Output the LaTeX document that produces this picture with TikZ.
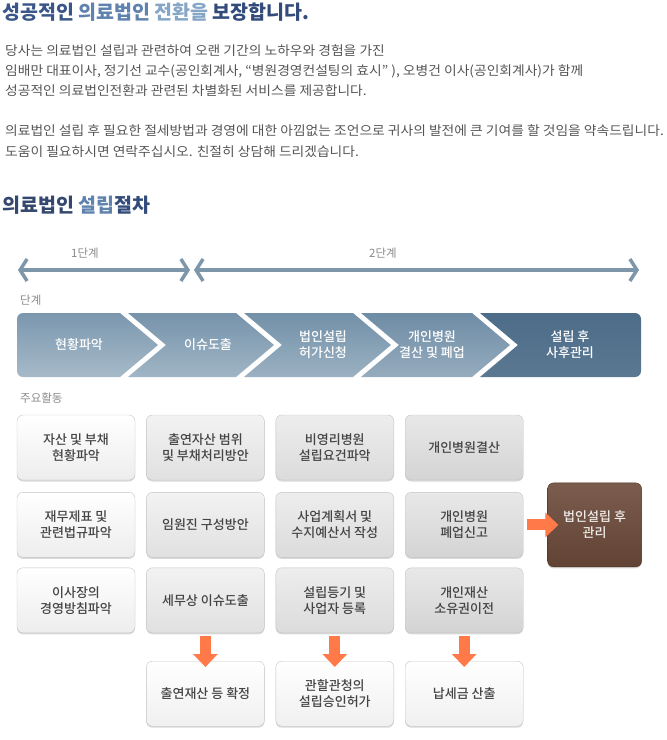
\documentclass[tikz,border=0pt]{standalone}
\usepackage{fontspec}
\setmainfont{Noto Sans CJK KR}
\newfontfamily\boxfont{Noto Sans CJK KR Medium}
\usepackage{graphicx}
\usepackage{tikz}
\usetikzlibrary{arrows.meta, positioning, shadows}
\definecolor{TitleA}{HTML}{3A5688}
\definecolor{TitleB}{HTML}{5F82AE}
\definecolor{TitleC}{HTML}{86A6C8}
\definecolor{TitleD}{HTML}{324B7B}
\definecolor{HeadNavy}{HTML}{34486F}
\definecolor{BodyGray}{HTML}{555555}
\definecolor{LabelGray}{HTML}{8A8A8A}
\definecolor{StepBlue}{HTML}{7D96A9}
\definecolor{SegTopA}{HTML}{7B97AE}
\definecolor{SegBotA}{HTML}{A6BAC9}
\definecolor{SegTopB}{HTML}{7693AB}
\definecolor{SegBotB}{HTML}{A0B5C5}
\definecolor{SegTopC}{HTML}{7290A8}
\definecolor{SegBotC}{HTML}{9BB1C2}
\definecolor{SegTopD}{HTML}{6E8CA5}
\definecolor{SegBotD}{HTML}{96ACBE}
\definecolor{SegTopE}{HTML}{4D6C89}
\definecolor{SegBotE}{HTML}{5A7891}
\definecolor{BoxLine}{HTML}{C4C4C4}
\definecolor{BoxText}{HTML}{444444}
\definecolor{Brown}{HTML}{6C4A3A}
\definecolor{BrownLine}{HTML}{4B3226}
\definecolor{ArrOrange}{HTML}{FF7A48}

\begin{document}
\begin{tikzpicture}[
  x=1pt, y=-1pt,
  node distance=12pt and 11pt,
  body/.style={anchor=west, inner sep=0pt, text=BodyGray, font=\fontsize{13}{15}\selectfont},
  small/.style={inner sep=0pt, text=LabelGray, font=\fontsize{11.5}{14}\selectfont},
  steparr/.style={line width=3.5pt, StepBlue, {Straight Barb[length=7pt,width=22pt]}-{Straight Barb[length=7pt,width=22pt]}},
  seglabel/.style={text=white, align=center, font=\boxfont\fontsize{13}{16}\selectfont},
  task/.style={draw=BoxLine, rounded corners=6pt, minimum width=118pt, minimum height=65pt,
    align=center, text=BoxText, font=\boxfont\fontsize{13}{16}\selectfont,
    drop shadow={shadow xshift=0pt, shadow yshift=-1.5pt, opacity=0.3}},
  colA/.style={task, top color=white, bottom color=black!7},
  colB/.style={task, top color=black!5, bottom color=black!12},
  colC/.style={task, top color=black!7, bottom color=black!14},
  colD/.style={task, top color=black!9, bottom color=black!17},
  result/.style={task, top color=white, bottom color=black!6},
  fatarr/.style={line width=11pt, ArrOrange, -{Triangle[width=24pt,length=13pt]}}
]
  \useasboundingbox (0,0) rectangle (667,740);

  % Intro
  \node[anchor=west, inner sep=0pt, font=\fontsize{19.5}{22}\bfseries] (title) at (2,12)
    {\textcolor{TitleA}{성공적인} \textcolor{TitleB}{의료법인} \textcolor{TitleC}{전환을} \textcolor{TitleD}{보장합니다.}};
  \node[body] (t1) at (5,51) {\scalebox{1.06}[1]{당사는 의료법인 설립과 관련하여 오랜 기간의 노하우와 경험을 가진}};
  \node[body] (t2) at (5,71) {\scalebox{1.06}[1]{임배만 대표이사, 정기선 교수(공인회계사, “병원경영컨설팅의 효시” ), 오병건 이사(공인회계사)가 함께}};
  \node[body] (t3) at (5,91) {\scalebox{1.06}[1]{성공적인 의료법인전환과 관련된 차별화된 서비스를 제공합니다.}};
  \node[body] (t4) at (5,131) {\scalebox{1.06}[1]{의료법인 설립 후 필요한 절세방법과 경영에 대한 아낌없는 조언으로 귀사의 발전에 큰 기여를 할 것임을 약속드립니다.}};
  \node[body] (t5) at (5,152) {\scalebox{1.06}[1]{도움이 필요하시면 연락주십시오. 친절히 상담해 드리겠습니다.}};

  % Procedure
  \node[anchor=west, inner sep=0pt, font=\fontsize{19.5}{22}\bfseries] (head) at (2,205)
    {\textcolor{HeadNavy}{의료법인} \textcolor{TitleB}{설립}\textcolor{TitleD}{절차}};
  \node[small] (phase1) at (85,253) {1단계};
  \node[small] (phase2) at (383,253) {2단계};
  \coordinate (p1a) at (18,270);
  \coordinate (p1b) at (190,270);
  \coordinate (p2a) at (194,270);
  \coordinate (p2b) at (639,270);
  \draw[steparr] (p1a) -- (p1b);
  \draw[steparr] (p2a) -- (p2b);

  \node[small, anchor=west] (steps) at (20,300) {단계};
  \begin{scope}
    \clip[rounded corners=6pt] (17,313) rectangle (641,377);
    \shade[top color=SegTopA, bottom color=SegBotA] (10,313) -- (120,313) -- (158,345) -- (120,377) -- (10,377) -- cycle;
    \shade[top color=SegTopB, bottom color=SegBotB] (128,313) -- (236,313) -- (274,345) -- (236,377) -- (128,377) -- (166,345) -- cycle;
    \shade[top color=SegTopC, bottom color=SegBotC] (244,313) -- (353,313) -- (391,345) -- (353,377) -- (244,377) -- (282,345) -- cycle;
    \shade[top color=SegTopD, bottom color=SegBotD] (361,313) -- (472,313) -- (510,345) -- (472,377) -- (361,377) -- (399,345) -- cycle;
    \shade[top color=SegTopE, bottom color=SegBotE] (480,313) -- (650,313) -- (650,377) -- (480,377) -- (518,345) -- cycle;
  \end{scope}
  \node[seglabel] (s1) at (79,345) {현황파악};
  \node[seglabel] (s2) at (208,345) {이슈도출};
  \node[seglabel] (s3) at (323,345) {법인설립\\허가신청};
  \node[seglabel] (s4) at (432,345) {개인병원\\결산 및 폐업};
  \node[seglabel] (s5) at (570,345) {설립 후\\사후관리};

  % Activities
  \node[small, anchor=west] (acts) at (20,398) {주요활동};
  \node[colA] (r1c1) at (76,447.5) {자산 및 부채\\현황파악};
  \node[colB, right=of r1c1] (r1c2) {출연자산 범위\\및 부채처리방안};
  \node[colC, right=of r1c2] (r1c3) {비영리병원\\설립요건파악};
  \node[colD, right=of r1c3] (r1c4) {개인병원결산};

  \node[colA, below=of r1c1] (r2c1) {재무제표 및\\관련법규파악};
  \node[colB, right=of r2c1] (r2c2) {임원진 구성방안};
  \node[colC, right=of r2c2] (r2c3) {사업계획서 및\\수지예산서 작성};
  \node[colD, right=of r2c3] (r2c4) {개인병원\\폐업신고};

  \node[colA, below=10pt of r2c1] (r3c1) {이사장의\\경영방침파악};
  \node[colB, right=of r3c1] (r3c2) {세무상 이슈도출};
  \node[colC, right=of r3c2] (r3c3) {설립등기 및\\사업자 등록};
  \node[colD, right=of r3c3] (r3c4) {개인재산\\소유권이전};

  \node[result, below=28pt of r3c2] (r4c2) {출연재산 등 확정};
  \node[result, below=28pt of r3c3] (r4c3) {관할관청의\\설립승인허가};
  \node[result, below=28pt of r3c4] (r4c4) {납세금 산출};

  \node[task, right=24pt of r2c4, minimum width=94pt, minimum height=84pt, draw=BrownLine,
    top color=Brown!90!white, bottom color=Brown!90!black, text=white!90!Brown] (manage) {법인설립 후\\관리};

  \draw[fatarr] ([yshift=-3pt]r3c2.south) -- ([yshift=-6pt]r4c2.north);
  \draw[fatarr] ([yshift=-3pt]r3c3.south) -- ([yshift=-6pt]r4c3.north);
  \draw[fatarr] ([yshift=-3pt]r3c4.south) -- ([yshift=-6pt]r4c4.north);
  \draw[fatarr] ([xshift=4pt]r2c4.east) -- ([xshift=11pt]manage.west);
\end{tikzpicture}
\end{document}
